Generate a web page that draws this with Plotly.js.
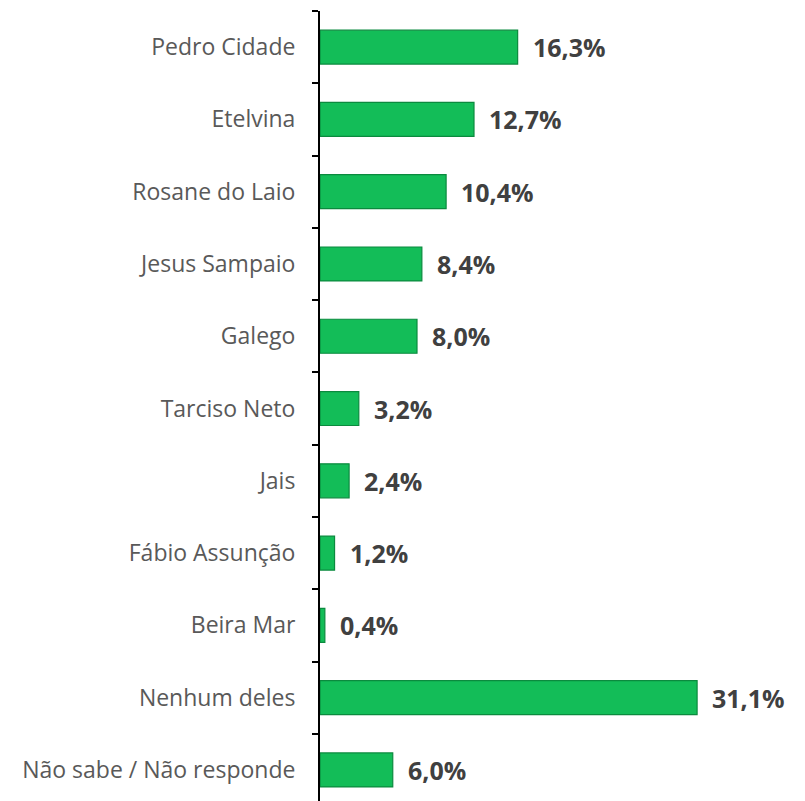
<!DOCTYPE html>
<html><head><meta charset="utf-8">
<script src="https://cdn.plot.ly/plotly-3.0.1.min.js"></script>
<style>html,body{margin:0;padding:0;background:#fff}</style>
</head><body>
<div id="chart" style="width:805px;height:801px"></div>
<script>
const categories = ["Pedro Cidade","Etelvina","Rosane do Laio","Jesus Sampaio","Galego","Tarciso Neto","Jais","Fábio Assunção","Beira Mar","Nenhum deles","Não sabe / Não responde"];
const values = [16.3,12.7,10.4,8.4,8.0,3.2,2.4,1.2,0.4,31.1,6.0];
const labels = ["16,3%","12,7%","10,4%","8,4%","8,0%","3,2%","2,4%","1,2%","0,4%","31,1%","6,0%"];

const trace = {
  type: 'bar', orientation: 'h', y: categories, x: values,
  width: 0.47,
  marker: {color: '#13bd58', line: {color: '#0b8a3e', width: 1.2}},
  hoverinfo: 'none'
};
const annotations = categories.map((c,i)=>({
  x: values[i], y: c, xref:'x', yref:'y', text: '<b>'+labels[i]+'</b>',
  showarrow:false, xanchor:'left', xshift:13, yshift:0,
  font:{family:'Open Sans, sans-serif', size:25, color:'#404040'}
}));
Plotly.newPlot('chart',[trace],{
  width:805,height:801,
  margin:{l:320,r:0,t:11,b:0},
  paper_bgcolor:'#fff', plot_bgcolor:'#fff',
  showlegend:false,
  xaxis:{range:[0,40],visible:false,showgrid:false,zeroline:false},
  yaxis:{type:'category',range:[10.43,-0.5],showline:true,linecolor:'#000',linewidth:2,
    ticks:'outside',ticklen:6,tickwidth:2,tickcolor:'#000',tickson:'boundaries',
    ticklabelstandoff:18,showgrid:false,
    tickfont:{family:'Open Sans, sans-serif',size:23,color:'#595959'}},
  annotations: annotations
},{staticPlot:true});
</script>
</body></html>
